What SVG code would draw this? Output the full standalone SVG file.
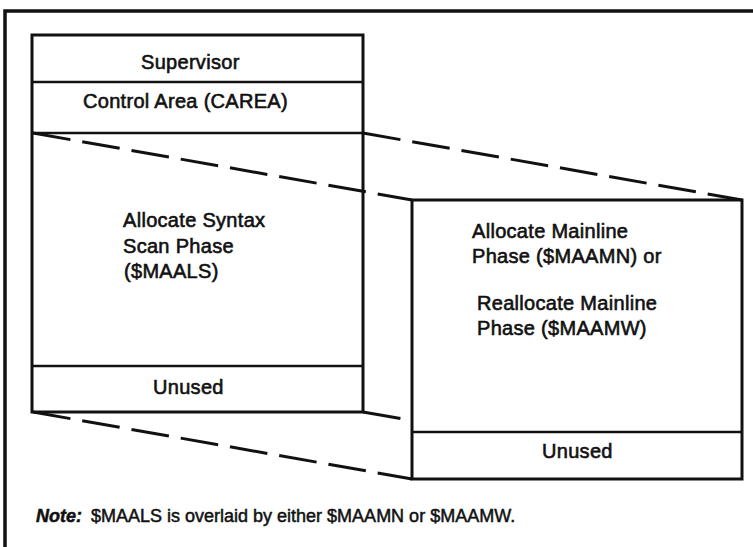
<svg xmlns="http://www.w3.org/2000/svg" width="753" height="547" viewBox="0 0 753 547">
  <style>
    .box { fill: none; stroke: #111; stroke-width: 3; }
    .div { stroke: #111; stroke-width: 2.5; fill: none; }
    .frame { fill: none; stroke: #111; stroke-width: 3.5; }
    .dash { stroke: #111; stroke-width: 3; fill: none; stroke-dasharray: 38 12; }
    .t { font-family: "Liberation Sans", Arial, Helvetica, sans-serif; font-size: 20px; letter-spacing: 0.3px; fill: #111; stroke: #111; stroke-width: 0.6; }
    .n { font-family: "Liberation Sans", Arial, Helvetica, sans-serif; font-size: 18px; fill: #111; stroke: #111; stroke-width: 0.5; }
  </style>
  <rect x="0" y="0" width="753" height="547" fill="#fff"/>
  <path class="frame" d="M5,547 V11 H753"/>

  <g id="connectors">
    <line class="dash" x1="33" y1="133" x2="412" y2="200"/>
    <line class="dash" x1="363" y1="133" x2="742" y2="200"/>
    <line class="dash" x1="33" y1="412" x2="412" y2="479"/>
    <line class="dash" x1="363" y1="412" x2="412" y2="420.5"/>
  </g>

  <g id="left-stack">
    <rect class="box" x="32" y="35" width="331" height="377"/>
    <g id="supervisor">
      <text class="t" x="141" y="69">Supervisor</text>
    </g>
    <line class="div" x1="32" y1="82" x2="363" y2="82"/>
    <g id="carea">
      <text class="t" x="83" y="108">Control Area (CAREA)</text>
    </g>
    <line class="div" x1="32" y1="133" x2="363" y2="133"/>
    <g id="maals">
      <text class="t" x="123" y="227">Allocate Syntax</text>
      <text class="t" x="123" y="253">Scan Phase</text>
      <text class="t" x="124" y="278">($MAALS)</text>
    </g>
    <line class="div" x1="32" y1="366" x2="363" y2="366"/>
    <g id="unused-left">
      <text class="t" x="153" y="394">Unused</text>
    </g>
  </g>

  <g id="right-stack">
    <rect class="box" x="412" y="200" width="330" height="279"/>
    <g id="mainline">
      <text class="t" x="472" y="238">Allocate Mainline</text>
      <text class="t" x="472" y="263">Phase ($MAAMN) or</text>
      <text class="t" x="477" y="310">Reallocate Mainline</text>
      <text class="t" x="477" y="335">Phase ($MAAMW)</text>
    </g>
    <line class="div" x1="412" y1="432" x2="742" y2="432"/>
    <g id="unused-right">
      <text class="t" x="542" y="458">Unused</text>
    </g>
  </g>

  <g id="note">
    <text class="n" x="36" y="522"><tspan font-weight="bold" font-style="italic">Note:</tspan><tspan x="91">$MAALS is overlaid by either $MAAMN or $MAAMW.</tspan></text>
  </g>
</svg>
